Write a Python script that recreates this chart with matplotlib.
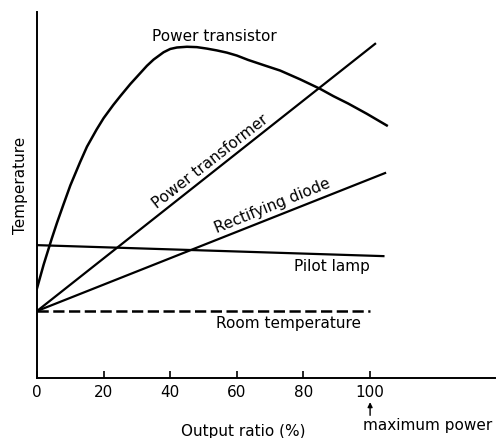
import matplotlib
matplotlib.use("Agg")
import matplotlib.pyplot as plt

plt.rcParams['font.family'] = ['DejaVu Sans']

# Data (arbitrary temperature units, 0-100 on the y axis)
transistor_x = [0, 2, 4.4, 6, 7.9, 10, 12.9, 15, 17.9, 20, 22.9, 25, 28, 30, 33, 35, 38, 40, 42, 45, 48, 51, 54, 57, 60, 63.4, 68, 73, 79, 85, 89, 93.4, 99, 105]
transistor_y = [24.5, 31.0, 38.0, 42.4, 47.3, 52.6, 58.9, 63.2, 67.9, 71.0, 74.6, 77.0, 80.3, 82.3, 85.3, 87.0, 89.0, 89.9, 90.3, 90.5, 90.4, 90.0, 89.5, 88.9, 88.1, 86.9, 85.5, 84.0, 81.6, 79.0, 77.0, 75.0, 72.2, 69.0]
transformer_x = [0, 101.5]
transformer_y = [18.3, 91.3]
diode_x = [0, 104.5]
diode_y = [18.3, 56.0]
lamp_x = [0, 104]
lamp_y = [36.3, 33.3]
room_x = [0, 100]
room_y = [18.3, 18.3]
xticks = [0, 20, 40, 60, 80, 100]

fig = plt.figure(figsize=(4.97, 4.38), dpi=100)
ax = fig.add_axes([37/497, 60/438, 458/497, 366/438])

lw = 1.6
ax.plot(transistor_x, transistor_y, color='black', lw=lw + 0.2, solid_joinstyle='round')
ax.plot(transformer_x, transformer_y, color='black', lw=lw)
ax.plot(diode_x, diode_y, color='black', lw=lw)
ax.plot(lamp_x, lamp_y, color='black', lw=lw)
ax.plot(room_x, room_y, color='black', lw=lw + 0.2, dashes=(4.5, 1.8))

ax.set_xlim(0, 137.5)
ax.set_ylim(0, 100)
ax.set_xticks(xticks)
ax.set_xticklabels([str(t) for t in xticks], fontsize=11)
ax.set_yticks([])
ax.tick_params(axis='x', direction='in', length=5, width=1.2, pad=5)
for s in ['top', 'right']:
    ax.spines[s].set_visible(False)
for s in ['left', 'bottom']:
    ax.spines[s].set_linewidth(1.4)

fs = 11
ax.text(53.2, 93.2, 'Power transistor', fontsize=fs, ha='center', va='center')
ax.text(52, 59, 'Power transformer', fontsize=fs, ha='center', va='center', rotation=38)
ax.text(70.6, 47, 'Rectifying diode', fontsize=fs, ha='center', va='center', rotation=22)
ax.text(88.6, 30.6, 'Pilot lamp', fontsize=fs, ha='center', va='center')
ax.text(75.4, 15, 'Room temperature', fontsize=fs, ha='center', va='center')

ax.set_ylabel('Temperature', fontsize=fs)
ax.yaxis.set_label_coords(-0.037, 0.527)
ax.set_xlabel('Output ratio (%)', fontsize=fs)
ax.xaxis.set_label_coords(0.45, -0.145)
ax.xaxis.label.set_va('center')
ax.yaxis.label.set_va('center')

ax.annotate('', xy=(100, -0.066), xytext=(100, -0.102), xycoords=('data', 'axes fraction'),
            textcoords=('data', 'axes fraction'),
            arrowprops=dict(arrowstyle='-|>', color='black', lw=1, mutation_scale=7,
                            shrinkA=0, shrinkB=0))
ax.text(98, -0.131, 'maximum power', fontsize=fs, ha='left', va='center',
        transform=ax.get_xaxis_transform())

fig.savefig('out.png', dpi=100)
